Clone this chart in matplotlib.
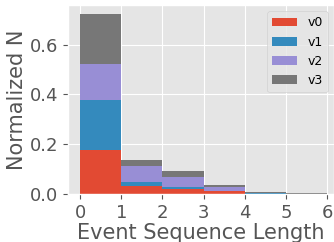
import matplotlib
matplotlib.use("Agg")
import matplotlib.pyplot as plt
import numpy as np

plt.style.use("ggplot")

bin_edges = [0, 1, 2, 3, 4, 5, 6]
labels = ["v0", "v1", "v2", "v3"]
v0 = [0.176, 0.032, 0.019, 0.011, 0.001, 0.002]
v1 = [0.203, 0.016, 0.008, 0.001, 0.003, 0.000]
v2 = [0.144, 0.064, 0.040, 0.015, 0.001, 0.000]
v3 = [0.200, 0.023, 0.025, 0.008, 0.003, 0.001]

centers = [(a + b) / 2 for a, b in zip(bin_edges[:-1], bin_edges[1:])]

fig = plt.figure(figsize=(3.34, 2.42), dpi=100)
ax = fig.add_axes([0.204, 0.198, 0.796, 0.781])
ax.hist([centers] * 4, bins=bin_edges, weights=[v0, v1, v2, v3],
        stacked=True, label=labels)
ax.set_xlim(-0.29, 6.17)
ax.set_xticks(range(0, 7))
ax.set_yticks([0.0, 0.2, 0.4, 0.6])
ax.tick_params(labelsize=13)
ax.set_xlabel("Event Sequence Length", fontsize=15, labelpad=1)
ax.set_ylabel("Normalized N", fontsize=15, labelpad=2)
ax.legend(loc="upper right", fontsize=9)
fig.savefig("out.png", dpi=100)
